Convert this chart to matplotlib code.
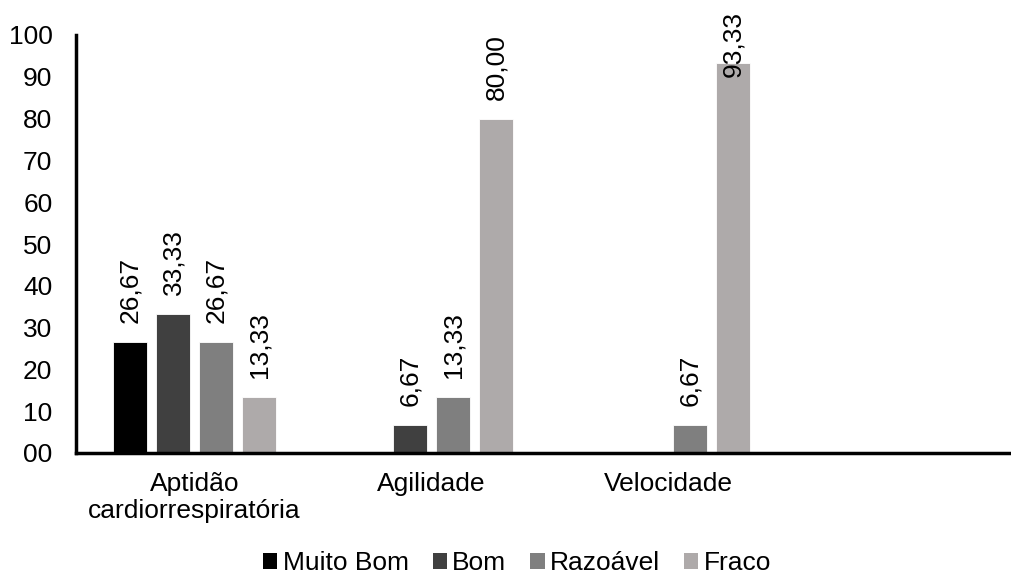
import numpy as np
import matplotlib
matplotlib.use("Agg")
import matplotlib.pyplot as plt
from matplotlib.patches import Patch

plt.rcParams['font.family'] = ['Liberation Sans', 'DejaVu Sans']

categories = ["Aptidão\ncardiorrespiratória", "Agilidade", "Velocidade", ""]
series = ["Muito Bom", "Bom", "Razoável", "Fraco"]
values = {
    "Muito Bom": [26.67, 0, 0, 0],
    "Bom": [33.33, 6.67, 0, 0],
    "Razoável": [26.67, 13.33, 6.67, 0],
    "Fraco": [13.33, 80.00, 93.33, 0],
}
colors = ["#000000", "#404040", "#7f7f7f", "#aeaaaa"]
yticks = [0, 10, 20, 30, 40, 50, 60, 70, 80, 90, 100]
ytick_labels = ["00", "10", "20", "30", "40", "50", "60", "70", "80", "90", "100"]

FS = 19

fig = plt.figure(figsize=(10.12, 5.78), dpi=100)
ax = fig.add_axes([76 / 1012, 1 - 453 / 578, (1010 - 76) / 1012, (453 - 35) / 578])

x = np.arange(len(categories))
pitch = 43 / 237
width = 34 / 237
for i, name in enumerate(series):
    pos = x + (i - 1.5) * pitch
    vals = values[name]
    ax.bar(pos, vals, width, color=colors[i], edgecolor="white", linewidth=0.6, zorder=2)
    for p, v in zip(pos, vals):
        if v > 0:
            # labels kept inside the plot area like excel does
            ly = min(v + 4.5, 90.0)
            ax.text(p, ly, f"{v:.2f}".replace(".", ","), rotation=90,
                    ha="center", va="bottom", fontsize=FS, zorder=3)

ax.set_xlim(-0.5, 3.44)
ax.set_ylim(0, 100)
ax.set_yticks(yticks)
ax.set_yticklabels(ytick_labels, fontsize=FS)
ax.set_xticks(x[:3])
ax.set_xticklabels(categories[:3], fontsize=FS, linespacing=1.15)
ax.tick_params(axis="both", length=0)
ax.tick_params(axis="y", pad=17)
ax.tick_params(axis="x", pad=14)
for s in ["top", "right"]:
    ax.spines[s].set_visible(False)
ax.spines["left"].set_linewidth(2.5)
ax.spines["bottom"].set_linewidth(2.5)

handles = [Patch(facecolor=c, label=n) for c, n in zip(colors, series)]
fig.legend(handles=handles, loc="center", bbox_to_anchor=(517 / 1012, 1 - 563 / 578),
           ncol=4, frameon=False, fontsize=FS, handlelength=0.55, handleheight=0.55,
           handletextpad=0.2, columnspacing=0.9)

fig.savefig("out.png", dpi=100)
